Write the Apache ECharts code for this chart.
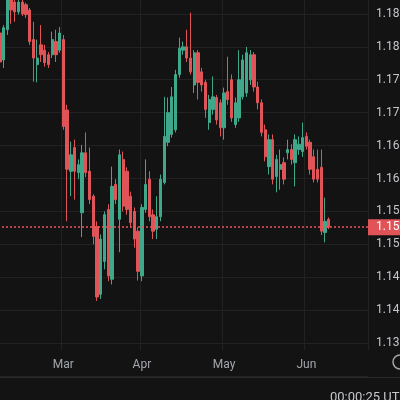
<!DOCTYPE html>
<html>
<head>
<meta charset="utf-8">
<script src="https://cdn.jsdelivr.net/npm/echarts@6/dist/echarts.min.js"></script>
<style>
  html, body { margin: 0; padding: 0; background: #131313; }
  #chart { width: 400px; height: 400px; }
</style>
</head>
<body>
<div id="chart"></div>
<script>
// daily candles
var opens  = [1.1821,1.1780,1.1826,1.1876,1.1868,1.1853,1.1868,1.1864,1.1856,1.1811,
              1.1773,1.1803,1.1795,1.1788,1.1788,1.1808,1.1795,1.1811,1.1704,1.1611,
              1.1647,1.1609,1.1548,1.1639,1.1611,1.1573,1.1527,1.1424,1.1474,1.1553,
              1.1447,1.1591,1.1538,1.1629,1.1611,1.1573,1.1550,1.1520,1.1452,1.1553,
              1.1599,1.1545,1.1523,1.1542,1.1594,1.1655,1.1667,1.1674,1.1758,1.1795,
              1.1800,1.1783,1.1742,1.1791,1.1762,1.1746,1.1685,1.1705,1.1723,1.1715,
              1.1677,1.1732,1.1750,1.1682,1.1692,1.1724,1.1730,1.1750,1.1788,1.1739,
              1.1715,1.1674,1.1618,1.1659,1.1603,1.1614,1.1624,1.1639,1.1644,1.1624,
              1.1644,1.1641,1.1664,1.1655,1.1633,1.1614,1.1617,1.1518,1.1538];
var closes = [1.1777,1.1829,1.1879,1.1856,1.1853,1.1868,1.1850,1.1849,1.1808,1.1783,
              1.1783,1.1788,1.1776,1.1773,1.1811,1.1788,1.1821,1.1679,1.1614,1.1636,
              1.1611,1.1621,1.1639,1.1609,1.1568,1.1512,1.1420,1.1508,1.1545,1.1452,
              1.1588,1.1568,1.1636,1.1558,1.1553,1.1533,1.1508,1.1459,1.1556,1.1591,
              1.1542,1.1520,1.1542,1.1599,1.1664,1.1700,1.1724,1.1758,1.1798,1.1800,
              1.1783,1.1762,1.1791,1.1746,1.1742,1.1705,1.1720,1.1724,1.1689,1.1677,
              1.1730,1.1720,1.1692,1.1715,1.1750,1.1780,1.1791,1.1788,1.1739,1.1715,
              1.1670,1.1633,1.1659,1.1599,1.1629,1.1621,1.1599,1.1644,1.1629,1.1659,
              1.1652,1.1662,1.1649,1.1614,1.1599,1.1599,1.1520,1.1535,1.1526];
var lows   = [1.1771,1.1768,1.1818,1.1835,1.1838,1.1849,1.1847,1.1844,1.1803,1.1747,
              1.1746,1.1777,1.1770,1.1768,1.1783,1.1777,1.1791,1.1674,1.1535,1.1573,
              1.1568,1.1599,1.1511,1.1602,1.1561,1.1500,1.1414,1.1417,1.1462,1.1444,
              1.1439,1.1561,1.1488,1.1550,1.1545,1.1526,1.1495,1.1445,1.1444,1.1548,
              1.1535,1.1508,1.1508,1.1535,1.1591,1.1649,1.1662,1.1670,1.1753,1.1788,
              1.1777,1.1758,1.1730,1.1720,1.1732,1.1692,1.1674,1.1697,1.1682,1.1664,
              1.1659,1.1712,1.1686,1.1677,1.1686,1.1720,1.1724,1.1742,1.1732,1.1705,
              1.1664,1.1626,1.1606,1.1591,1.1579,1.1583,1.1591,1.1629,1.1621,1.1588,
              1.1636,1.1633,1.1644,1.1606,1.1594,1.1594,1.1514,1.1503,1.1523];
var highs  = [1.1826,1.1833,1.1886,1.1883,1.1871,1.1874,1.1874,1.1867,1.1859,1.1838,
              1.1811,1.1833,1.1803,1.1792,1.1823,1.1826,1.1830,1.1818,1.1712,1.1656,
              1.1659,1.1629,1.1651,1.1670,1.1647,1.1576,1.1535,1.1515,1.1550,1.1561,
              1.1618,1.1599,1.1644,1.1641,1.1617,1.1580,1.1556,1.1526,1.1561,1.1629,
              1.1611,1.1553,1.1573,1.1606,1.1724,1.1723,1.1739,1.1765,1.1814,1.1808,
              1.1826,1.1852,1.1795,1.1795,1.1768,1.1750,1.1727,1.1755,1.1727,1.1720,
              1.1738,1.1785,1.1758,1.1723,1.1795,1.1788,1.1800,1.1795,1.1792,1.1747,
              1.1720,1.1682,1.1667,1.1667,1.1636,1.1644,1.1632,1.1659,1.1652,1.1667,
              1.1664,1.1685,1.1670,1.1659,1.1644,1.1644,1.1644,1.1571,1.1541];
var priceTicks = [1.130, 1.190, 0.005]; // min, max, step
var monthNames = ['Jan','Feb','Mar','Apr','May','Jun','Jul','Aug','Sep','Oct','Nov','Dec'];
var firstDay = '2025-02-06';
var emptySlots = 10; // free space right of the last bar

// trading days (Mon-Fri)
var dates = [];
var d = new Date(firstDay + 'T00:00:00Z');
while (dates.length < opens.length + emptySlots) {
  var wd = d.getUTCDay();
  if (wd !== 0 && wd !== 6) dates.push(d.toISOString().slice(0, 10));
  d.setUTCDate(d.getUTCDate() + 1);
}

var candles = opens.map(function (o, i) {
  return [o, closes[i], lows[i], highs[i]];
});
var lastClose = closes[closes.length - 1];

function monthStart(index) {
  if (index <= 0 || index >= opens.length) return false;
  return dates[index].slice(5, 7) !== dates[index - 1].slice(5, 7);
}

var upColor = '#3fa88a';
var downColor = '#e05458';
var gridColor = '#222222';

var chart = echarts.init(document.getElementById('chart'));
chart.setOption({
  backgroundColor: '#131313',
  animation: false,
  grid: [
    { left: -2, right: 32, top: -19, bottom: 24, containLabel: false, outerBoundsMode: 'none' },
    { left: -2, right: 32, top: -19, bottom: 50, containLabel: false, outerBoundsMode: 'none' }
  ],
  xAxis: [
    {
      type: 'category',
      gridIndex: 0,
      data: dates,
      boundaryGap: true,
      axisLine: { show: false },
      axisTick: { show: false },
      splitLine: { show: false },
      axisLabel: {
        interval: function (index) { return monthStart(index); },
        formatter: function (v) { return monthNames[parseInt(v.slice(5, 7), 10) - 1]; },
        margin: -17,
        color: '#a3a6ad',
        fontFamily: 'Roboto',
        fontSize: 12
      }
    },
    {
      type: 'category',
      gridIndex: 1,
      data: dates,
      boundaryGap: true,
      axisLine: { show: false },
      axisTick: { show: false },
      axisLabel: { show: false },
      splitLine: {
        show: true,
        interval: function (index) { return monthStart(index); },
        lineStyle: { color: gridColor, width: 1 }
      }
    }
  ],
  yAxis: [
    {
      type: 'value',
      gridIndex: 0,
      position: 'right',
      min: priceTicks[0],
      max: priceTicks[1],
      interval: priceTicks[2],
      axisLine: { show: false },
      axisTick: { show: false },
      splitLine: { lineStyle: { color: gridColor, width: 1 } },
      axisLabel: {
        showMinLabel: false,
        showMaxLabel: false,
        margin: 8,
        color: '#c5c7cc',
        fontFamily: 'Roboto',
        fontSize: 12,
        formatter: function (v) { return v.toFixed(4); }
      }
    },
    { type: 'value', gridIndex: 1, show: false, min: 0, max: 1 }
  ],
  series: [
    {
      type: 'candlestick',
      xAxisIndex: 0,
      yAxisIndex: 0,
      data: candles,
      barWidth: '75%',
      itemStyle: {
        color: upColor,
        color0: downColor,
        borderColor: upColor,
        borderColor0: downColor,
        borderWidth: 1
      },
      markLine: {
        silent: true,
        symbol: 'none',
        precision: 4,
        data: [{ yAxis: lastClose }],
        lineStyle: { color: '#f0575c', type: [2, 2], width: 1.5, opacity: 1 },
        emphasis: { disabled: true },
        label: {
          position: 'end',
          distance: 0,
          formatter: lastClose.toFixed(4),
          color: '#ffffff',
          backgroundColor: downColor,
          padding: [2, 4, 2, 8],
          fontFamily: 'Roboto',
          fontSize: 12
        }
      }
    }
  ],
  graphic: [
    {
      type: 'line',
      shape: { x1: 0, y1: 377.5, x2: 400, y2: 377.5 },
      style: { stroke: '#2a2a2a', lineWidth: 1 }
    },
    {
      type: 'text',
      left: 330,
      top: 391,
      style: { text: '00:00:25 UTC', fill: '#c5c7cc', font: '13px Roboto' }
    },
    {
      type: 'circle',
      shape: { cx: 400, cy: 362, r: 7 },
      style: { fill: 'none', stroke: '#a3a6ad', lineWidth: 1.5 }
    }
  ]
});
</script>
</body>
</html>
